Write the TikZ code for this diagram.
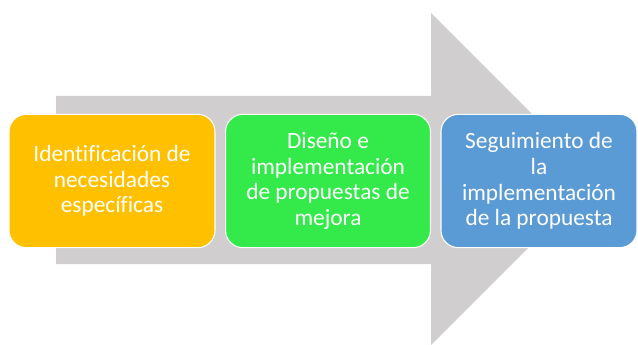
\documentclass[tikz,border=0pt]{standalone}
\usepackage{fontspec}
\setmainfont[Ligatures=NoCommon]{Carlito}
\usetikzlibrary{positioning}
\definecolor{arrowgrey}{HTML}{D0CECE}
\definecolor{stepOrange}{HTML}{FFC000}
\definecolor{stepGreen}{HTML}{33EA4A}
\definecolor{stepBlue}{HTML}{5B9BD5}
\tikzset{
  stepbox/.style={draw=white, line width=0.8pt, rounded corners=13pt,
    minimum height=100pt, inner sep=0pt, align=center, text=white,
    font=\fontsize{17.5}{19.2}\selectfont},
}
\begin{document}
\begin{tikzpicture}[x=0.75pt, y=-0.75pt]
      \useasboundingbox (0,0) rectangle (638,345);
      % arrow
      \coordinate (S1) at (56,96);
      \coordinate (S2) at (431,96);
      \coordinate (H1) at (431,13);
      \coordinate (T) at (597,179);
      \coordinate (H2) at (431,345);
      \coordinate (S3) at (431,264);
      \coordinate (S4) at (56,264);

      \fill[arrowgrey] (S1) -- (S2) -- (H1) -- (T) -- (H2) -- (S3) -- (S4) -- cycle;

      % steps
      \node[stepbox, fill=stepOrange, minimum width=154.5pt] (ident) at (112,181)
        {Identificación de\\necesidades\\específicas};
      \node[stepbox, fill=stepGreen, minimum width=153.7pt] (diseno) at (328,181)
        {Diseño e\\implementación\\de propuestas de\\mejora};
      \node[stepbox, fill=stepBlue, minimum width=147pt] (segui) at (539,181)
        {Seguimiento de\\la\\implementación\\de la propuesta};
\end{tikzpicture}
\end{document}
